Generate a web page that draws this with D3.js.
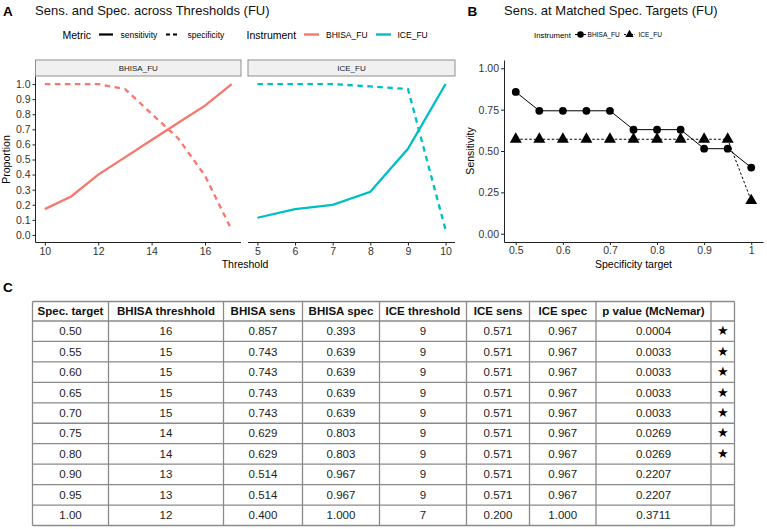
<!DOCTYPE html>
<html>
<head>
<meta charset="utf-8">
<script src="https://cdn.jsdelivr.net/npm/d3@7/dist/d3.min.js"></script>
<style>
  body { margin: 0; background: #fff; }
  svg { display: block; font-family: "Liberation Sans", Arial, sans-serif; }
</style>
</head>
<body>
<div id="chart"></div>
<script>
// ---- Panel A: sensitivity / specificity across thresholds
const bhisaThresholds = [10, 11, 12, 13, 14, 15, 16, 17];
const bhisaSens = [0.171, 0.257, 0.400, 0.514, 0.629, 0.743, 0.857, 1.000];
const bhisaSpec = [1.000, 1.000, 1.000, 0.967, 0.803, 0.639, 0.393, 0.033];
const bhisaTicks = [10, 12, 14, 16];

const iceThresholds = [5, 6, 7, 8, 9, 10];
const iceSens = [0.114, 0.171, 0.200, 0.286, 0.571, 1.000];
const iceSpec = [1.000, 1.000, 1.000, 0.984, 0.967, 0.033];
const iceTicks = [5, 6, 7, 8, 9, 10];

const instruments = ['BHISA_FU', 'ICE_FU'];
const metrics = ['sensitivity', 'specificity'];

// ---- Panel B: sensitivity at matched specificity targets
const specTargets = [0.5, 0.55, 0.6, 0.65, 0.7, 0.75, 0.8, 0.85, 0.9, 0.95, 1.0];
const matchedBhisa = [0.857, 0.743, 0.743, 0.743, 0.743, 0.629, 0.629, 0.629, 0.514, 0.514, 0.400];
const matchedIce = [0.571, 0.571, 0.571, 0.571, 0.571, 0.571, 0.571, 0.571, 0.571, 0.571, 0.200];

// ---- Panel C: table
const tableHeaders = ['Spec. target', 'BHISA threshhold', 'BHISA sens', 'BHISA spec',
  'ICE threshold', 'ICE sens', 'ICE spec', 'p value (McNemar)', ''];
const colSpecTarget = ['0.50', '0.55', '0.60', '0.65', '0.70', '0.75', '0.80', '0.90', '0.95', '1.00'];
const colBhisaThr = ['16', '15', '15', '15', '15', '14', '14', '13', '13', '12'];
const colBhisaSens = ['0.857', '0.743', '0.743', '0.743', '0.743', '0.629', '0.629', '0.514', '0.514', '0.400'];
const colBhisaSpec = ['0.393', '0.639', '0.639', '0.639', '0.639', '0.803', '0.803', '0.967', '0.967', '1.000'];
const colIceThr = ['9', '9', '9', '9', '9', '9', '9', '9', '9', '7'];
const colIceSens = ['0.571', '0.571', '0.571', '0.571', '0.571', '0.571', '0.571', '0.571', '0.571', '0.200'];
const colIceSpec = ['0.967', '0.967', '0.967', '0.967', '0.967', '0.967', '0.967', '0.967', '0.967', '1.000'];
const colPValue = ['0.0004', '0.0033', '0.0033', '0.0033', '0.0033', '0.0269', '0.0269', '0.2207', '0.2207', '0.3711'];
const colSig = ['★', '★', '★', '★', '★', '★', '★', '', '', ''];

const colors = { BHISA_FU: '#F8766D', ICE_FU: '#00BFC4' };
const axisCol = '#222';
const tickTextCol = '#333';

const svg = d3.select('#chart').append('svg')
  .attr('width', 767)
  .attr('height', 529);

function expand(domain, frac = 0.05) {
  const pad = (domain[1] - domain[0]) * frac;
  return [domain[0] - pad, domain[1] + pad];
}

function styleAxis(sel) {
  sel.select('.domain').attr('stroke', axisCol);
  sel.selectAll('.tick line').attr('stroke', axisCol);
  sel.selectAll('text').style('font-size', '10.5px').attr('fill', tickTextCol)
    .style('font-family', '"Liberation Sans", Arial, sans-serif');
}

/* ---------------- PANEL A ---------------- */
function drawPanelA() {
  const g = svg.append('g').attr('class', 'panel-a');

  g.append('text').attr('x', 3).attr('y', 16)
    .style('font-size', '13.5px').style('font-weight', 'bold').text('A');
  g.append('text').attr('x', 35).attr('y', 15)
    .style('font-size', '13px').attr('fill', '#111')
    .text('Sens. and Spec. across Thresholds (FU)');

  // legend
  const leg = g.append('g').attr('transform', 'translate(0,34.5)');
  leg.append('text').attr('x', 62.5).attr('y', 4).style('font-size', '10.5px').text('Metric');
  const metricKeys = [
    { x: 99, dash: null, lx: 120.5 },
    { x: 166, dash: '4,3', lx: 187.5 },
  ];
  metricKeys.forEach((k, i) => {
    leg.append('line').attr('x1', k.x).attr('x2', k.x + 14).attr('y1', 0).attr('y2', 0)
      .attr('stroke', '#000').attr('stroke-width', 2.2).attr('stroke-dasharray', k.dash);
    leg.append('text').attr('x', k.lx).attr('y', 3).style('font-size', '8.5px').text(metrics[i]);
  });
  leg.append('text').attr('x', 246.5).attr('y', 4).style('font-size', '10.5px').text('Instrument');
  [{ x: 304, lx: 326 }, { x: 376, lx: 397.5 }].forEach((k, i) => {
    leg.append('line').attr('x1', k.x).attr('x2', k.x + 15).attr('y1', 0).attr('y2', 0)
      .attr('stroke', colors[instruments[i]]).attr('stroke-width', 2.4);
    leg.append('text').attr('x', k.lx).attr('y', 3).style('font-size', '8.5px').text(instruments[i]);
  });

  const top = 76.5, bottom = 242.5, stripTop = 60;
  const y = d3.scaleLinear().domain(expand([0, 1])).range([bottom, top]);

  const facets = [
    { name: 'BHISA_FU', x0: 35.5, x1: 241, thr: bhisaThresholds, sens: bhisaSens, spec: bhisaSpec, ticks: bhisaTicks },
    { name: 'ICE_FU', x0: 248, x1: 455, thr: iceThresholds, sens: iceSens, spec: iceSpec, ticks: iceTicks },
  ];

  facets.forEach((f, fi) => {
    const x = d3.scaleLinear().domain(expand(d3.extent(f.thr))).range([f.x0, f.x1]);

    // strip
    g.append('rect').attr('x', f.x0).attr('y', stripTop)
      .attr('width', f.x1 - f.x0).attr('height', top - stripTop - 0.5)
      .attr('fill', '#f0f0f0').attr('stroke', '#8f8f8f').attr('stroke-width', 1);
    g.append('text').attr('x', (f.x0 + f.x1) / 2).attr('y', (stripTop + top) / 2 + 3)
      .attr('text-anchor', 'middle').style('font-size', '8px').attr('fill', '#1a1a1a')
      .text(f.name);

    // x axis
    const xAxis = g.append('g').attr('transform', `translate(0,${bottom})`)
      .call(d3.axisBottom(x).tickValues(f.ticks).tickFormat(d3.format('d'))
        .tickSize(3).tickSizeOuter(0).tickPadding(2));
    styleAxis(xAxis);
    xAxis.select('.domain').attr('d', `M${f.x0},0H${f.x1}`);

    if (fi === 0) {
      const yAxis = g.append('g').attr('transform', `translate(${f.x0},0)`)
        .call(d3.axisLeft(y).tickValues(d3.range(0, 1.01, 0.1)).tickFormat(d3.format('.1f'))
          .tickSize(3).tickSizeOuter(0).tickPadding(2));
      styleAxis(yAxis);
      yAxis.select('.domain').attr('d', `M0,${top}V${bottom}`);
    }

    const line = d3.line().x((d) => x(d[0])).y((d) => y(d[1]));
    const sensPts = f.thr.map((t, i) => [t, f.sens[i]]);
    const specPts = f.thr.map((t, i) => [t, f.spec[i]]);
    g.append('path').attr('d', line(sensPts)).attr('fill', 'none')
      .attr('stroke', colors[f.name]).attr('stroke-width', 2.3);
    g.append('path').attr('d', line(specPts)).attr('fill', 'none')
      .attr('stroke', colors[f.name]).attr('stroke-width', 2.3)
      .attr('stroke-dasharray', '5.5,4.5');
  });

  g.append('text').attr('x', 245).attr('y', 267.5).attr('text-anchor', 'middle')
    .style('font-size', '10.5px').text('Threshold');
  g.append('text').attr('transform', `translate(10,${(top + bottom) / 2}) rotate(-90)`)
    .attr('text-anchor', 'middle').style('font-size', '10.5px').text('Proportion');
}

/* ---------------- PANEL B ---------------- */
function symbolPath(type, size) {
  return d3.symbol().type(type).size(size)();
}

function drawPanelB() {
  const g = svg.append('g').attr('class', 'panel-b');

  g.append('text').attr('x', 467.5).attr('y', 16)
    .style('font-size', '13.5px').style('font-weight', 'bold').text('B');
  g.append('text').attr('x', 504).attr('y', 15)
    .style('font-size', '13px').attr('fill', '#111')
    .text('Sens. at Matched Spec. Targets (FU)');

  // legend
  const leg = g.append('g').attr('transform', 'translate(0,34.5)');
  leg.append('text').attr('x', 534).attr('y', 3).style('font-size', '7.8px').text('Instrument');
  const legItems = [
    { x: 575, lx: 587.5, sym: d3.symbolCircle, size: 34, dash: null },
    { x: 624, lx: 638.5, sym: d3.symbolTriangle, size: 30, dash: '2,1.5' },
  ];
  legItems.forEach((k, i) => {
    leg.append('line').attr('x1', k.x).attr('x2', k.x + 11).attr('y1', 0).attr('y2', 0)
      .attr('stroke', '#000').attr('stroke-width', 1).attr('stroke-dasharray', k.dash);
    leg.append('path').attr('d', symbolPath(k.sym, k.size))
      .attr('transform', `translate(${k.x + 5.5},0)`).attr('fill', '#000');
    leg.append('text').attr('x', k.lx).attr('y', 2.5).style('font-size', '6.6px').text(instruments[i]);
  });

  const left = 504, right = 763, top = 60, bottom = 242;
  const x = d3.scaleLinear().domain(expand([0.5, 1])).range([left, right]);
  const y = d3.scaleLinear().domain(expand([0, 1])).range([bottom, top]);

  const xAxis = g.append('g').attr('transform', `translate(0,${bottom})`)
    .call(d3.axisBottom(x).tickValues(d3.range(0.5, 1.001, 0.1))
      .tickFormat((d) => (Math.abs(d - 1) < 1e-9 ? '1' : d3.format('.1f')(d)))
      .tickSize(3).tickSizeOuter(0).tickPadding(2));
  styleAxis(xAxis);

  const yAxis = g.append('g').attr('transform', `translate(${left},0)`)
    .call(d3.axisLeft(y).tickValues([0, 0.25, 0.5, 0.75, 1]).tickFormat(d3.format('.2f'))
      .tickSize(3).tickSizeOuter(0).tickPadding(2));
  styleAxis(yAxis);

  const series = [
    { vals: matchedIce, dash: '2.5,2', sym: d3.symbolTriangle, size: 62 },
    { vals: matchedBhisa, dash: null, sym: d3.symbolCircle, size: 48 },
  ];
  const line = d3.line().x((d) => x(d[0])).y((d) => y(d[1]));
  series.forEach((s) => {
    const pts = specTargets.map((t, i) => [t, s.vals[i]]);
    g.append('path').attr('d', line(pts)).attr('fill', 'none')
      .attr('stroke', '#000').attr('stroke-width', 1).attr('stroke-dasharray', s.dash);
    g.selectAll(null).data(pts).join('path')
      .attr('d', symbolPath(s.sym, s.size))
      .attr('transform', (d) => `translate(${x(d[0])},${y(d[1])})`)
      .attr('fill', '#000');
  });

  g.append('text').attr('x', (left + right) / 2).attr('y', 267.5).attr('text-anchor', 'middle')
    .style('font-size', '10.5px').text('Specificity target');
  g.append('text').attr('transform', `translate(474,${(top + bottom) / 2}) rotate(-90)`)
    .attr('text-anchor', 'middle').style('font-size', '10.5px').text('Sensitivity');
}

/* ---------------- PANEL C ---------------- */
function drawTable() {
  const g = svg.append('g').attr('class', 'panel-c');
  g.append('text').attr('x', 3).attr('y', 292)
    .style('font-size', '13.5px').style('font-weight', 'bold').text('C');

  const colEdges = [32.5, 108.5, 223.5, 302.5, 379.5, 466.5, 529.5, 596, 711, 734.5];
  const tableTop = 301.5, headerH = 19.5, rowH = 20.45;
  const columns = [colSpecTarget, colBhisaThr, colBhisaSens, colBhisaSpec,
    colIceThr, colIceSens, colIceSpec, colPValue, colSig];
  const nRows = colSpecTarget.length;
  const tableBottom = tableTop + headerH + nRows * rowH;

  const rows = d3.range(nRows).map((r) => columns.map((c) => c[r]));

  // header text
  g.selectAll('text.hdr').data(tableHeaders).join('text')
    .attr('class', 'hdr')
    .attr('x', (d, i) => (colEdges[i] + colEdges[i + 1]) / 2)
    .attr('y', tableTop + headerH / 2 + 4)
    .attr('text-anchor', 'middle')
    .style('font-size', '11.5px').style('font-weight', 'bold').attr('fill', '#111')
    .text((d) => d);

  // body cells
  const rowG = g.selectAll('g.row').data(rows).join('g')
    .attr('class', 'row')
    .attr('transform', (d, i) => `translate(0,${tableTop + headerH + i * rowH})`);
  rowG.selectAll('text').data((d) => d).join('text')
    .attr('x', (d, i) => (colEdges[i] + colEdges[i + 1]) / 2)
    .attr('y', rowH / 2 + 4)
    .attr('text-anchor', 'middle')
    .style('font-size', (d, i) => (i === 8 ? '13px' : '11.5px'))
    .attr('fill', (d, i) => (i === 8 ? '#000' : '#222'))
    .text((d) => d);

  // grid lines
  const hLines = [tableTop].concat(d3.range(nRows + 1).map((i) => tableTop + headerH + i * rowH));
  g.selectAll('line.h').data(hLines).join('line')
    .attr('class', 'h')
    .attr('x1', colEdges[0]).attr('x2', colEdges[colEdges.length - 1])
    .attr('y1', (d) => d).attr('y2', (d) => d)
    .attr('stroke', '#8a8a8a').attr('stroke-width', 1.3);
  g.selectAll('line.v').data(colEdges).join('line')
    .attr('class', 'v')
    .attr('x1', (d) => d).attr('x2', (d) => d)
    .attr('y1', tableTop).attr('y2', tableBottom)
    .attr('stroke', '#8a8a8a').attr('stroke-width', 1.3);
}

drawPanelA();
drawPanelB();
drawTable();
</script>
</body>
</html>
